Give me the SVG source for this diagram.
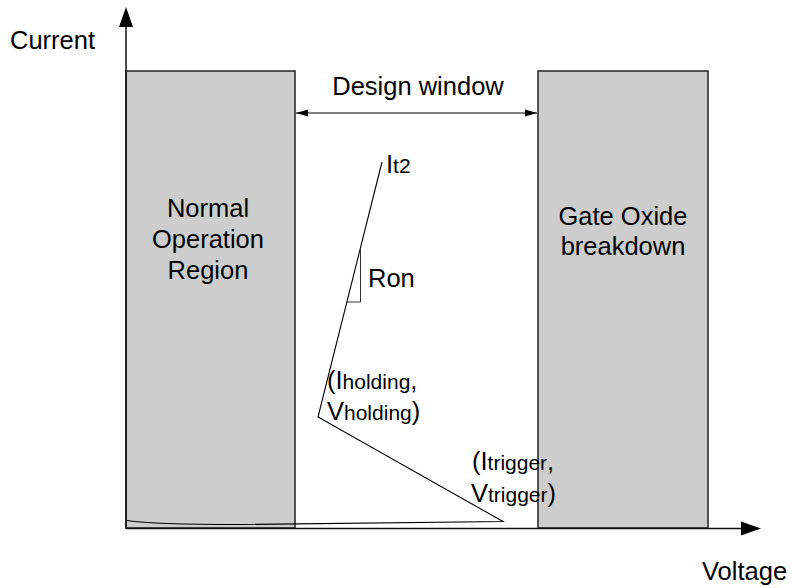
<svg xmlns="http://www.w3.org/2000/svg" width="791" height="588" viewBox="0 0 791 588">
  <style>
    .region { fill: #cdcdcd; stroke: #222; stroke-width: 1.5; }
    .axis { stroke: #111; stroke-width: 1.5; fill: none; }
    .curve { stroke: #000; stroke-width: 1.1; fill: none; stroke-linejoin: miter; }
    .thin { stroke: #333; stroke-width: 1; fill: none; }
    text { font-family: "Liberation Sans", Arial, sans-serif; font-size: 25.5px; fill: #000; }
    .c { text-anchor: middle; }
    .sub { font-size: 21px; }
  </style>
  <defs>
    <marker id="dimArrow" viewBox="0 0 12 8" refX="12" refY="4" markerWidth="12" markerHeight="8" markerUnits="userSpaceOnUse" orient="auto-start-reverse">
      <path d="M0,0.5 L12,4 L0,7.5 Z" fill="#000"/>
    </marker>
  </defs>

  <!-- shaded regions -->
  <g id="normal-operation">
    <rect class="region" x="126" y="71" width="169" height="457"/>
    <text class="c" x="208" y="217">Normal</text>
    <text class="c" x="208" y="248">Operation</text>
    <text class="c" x="208" y="279">Region</text>
  </g>
  <g id="gate-oxide">
    <rect class="region" x="538" y="71" width="170" height="457"/>
    <text class="c" x="623" y="225">Gate Oxide</text>
    <text class="c" x="623" y="255">breakdown</text>
  </g>

  <!-- axes -->
  <g id="axes">
    <line class="axis" x1="126" y1="529" x2="126" y2="24"/>
    <polygon points="126,7 119,27 133,27" fill="#000"/>
    <line class="axis" x1="126" y1="528.5" x2="744" y2="528.5"/>
    <polygon points="761,528.5 741,521.5 741,535.5" fill="#000"/>
    <text x="10" y="49">Current</text>
    <text x="702" y="580">Voltage</text>
  </g>

  <!-- connectors: design window dimension, I-V curve, Ron slope -->
  <g id="connectors">
    <line x1="296" y1="113" x2="537" y2="113" stroke="#000" stroke-width="1.2" marker-start="url(#dimArrow)" marker-end="url(#dimArrow)"/>
    <path class="curve" d="M127,520.5 C150,524 190,524.5 240,524.5 L503,521.5 L318,417 L382,162"/>
    <path class="thin" d="M360.5,249 L360.5,302 L347,302"/>
  </g>

  <g id="labels">
    <text class="c" x="418" y="95">Design window</text>
    <text x="386" y="173">I<tspan class="sub">t2</tspan></text>
    <text x="368" y="287">Ron</text>
    <text x="327" y="389">(I<tspan class="sub">holding</tspan>,</text>
    <text x="327" y="420">V<tspan class="sub">holding</tspan>)</text>
    <text x="472" y="470">(I<tspan class="sub">trigger</tspan>,</text>
    <text x="471" y="502">V<tspan class="sub">trigger</tspan>)</text>
  </g>
</svg>
